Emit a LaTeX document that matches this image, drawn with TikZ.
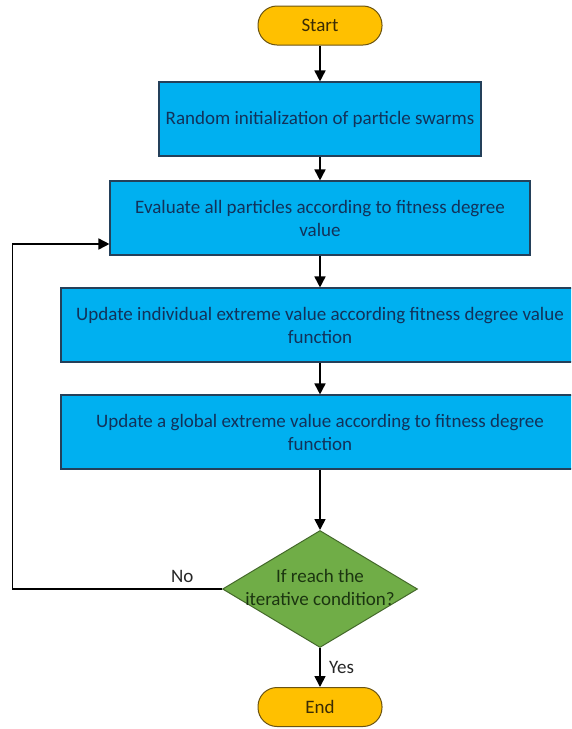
\documentclass[tikz,border=0pt]{standalone}
\usepackage{fontspec}
\setmainfont{Carlito}
\usepackage{xcolor}
\usepackage{tikz}
\usetikzlibrary{arrows.meta, shapes.geometric, positioning}
\definecolor{pillfill}{HTML}{FFC000}
\definecolor{pillline}{HTML}{6B5412}
\definecolor{pilltext}{HTML}{3A2C05}
\definecolor{blkfill}{HTML}{00B0F0}
\definecolor{blkline}{HTML}{24405A}
\definecolor{blktext}{HTML}{12325A}
\definecolor{decfill}{HTML}{70AD47}
\definecolor{decline}{HTML}{44692B}
\definecolor{dectext}{HTML}{1B3510}
\definecolor{lbltext}{HTML}{262626}

\begin{document}
\begin{tikzpicture}[x=1pt, y=-1pt, font=\fontsize{19}{23}\selectfont]
  \tikzstyle{pill}=[draw=pillline, fill=pillfill, text=pilltext,
    rounded corners=19pt, line width=1pt,
    minimum width=124pt, minimum height=39pt]
  \tikzstyle{blk}=[draw=blkline, fill=blkfill, text=blktext,
    line width=1.1pt, minimum height=74pt, align=center]
  \tikzstyle{arr}=[-{Triangle[length=11pt,width=11pt]},
    line width=1.7pt, black]

  \useasboundingbox (0,0) rectangle (571,729);
  \clip (0,0) rectangle (571,729);

  \node[pill] (start) at (320,25.5) {Start};

  \node[blk, minimum width=322pt] (init) at (320,119)
    {Random initialization of particle swarms};
  \node[blk, minimum width=420pt] (eval) at (320,218)
    {Evaluate all particles according to fitness degree\\value};
  \node[blk, minimum width=518pt] (pbest) at (320,325)
    {Update individual extreme value according fitness degree value\\function};
  \node[blk, minimum width=518pt] (gbest) at (320,432)
    {Update a global extreme value according to fitness degree\\function};

  \node[diamond, draw=decline, fill=decfill, text=dectext,
    line width=1pt, inner sep=0pt,
    minimum width=195pt, minimum height=117pt] (cond) at (320,589)
    {\makebox[0pt]{\begin{tabular}{@{}c@{}}If reach the\\iterative condition?\end{tabular}}};

  \node[pill] (stop) at (320,707) {End};

  \coordinate (back) at (12.5,589);

  \draw[arr] (start) -- (init);
  \draw[arr] (init) -- (eval);
  \draw[arr] (eval) -- (pbest);
  \draw[arr] (pbest) -- (gbest);
  \draw[arr] (gbest) -- (cond);
  \draw[arr] (cond.south) -- node[right, text=lbltext, xshift=5pt] {Yes} (stop);
  \draw[arr] (cond.west) -- node[above, pos=0.19, text=lbltext, yshift=2pt] {No}
    (back) |- ([yshift=-26pt]eval.west);
\end{tikzpicture}
\end{document}
